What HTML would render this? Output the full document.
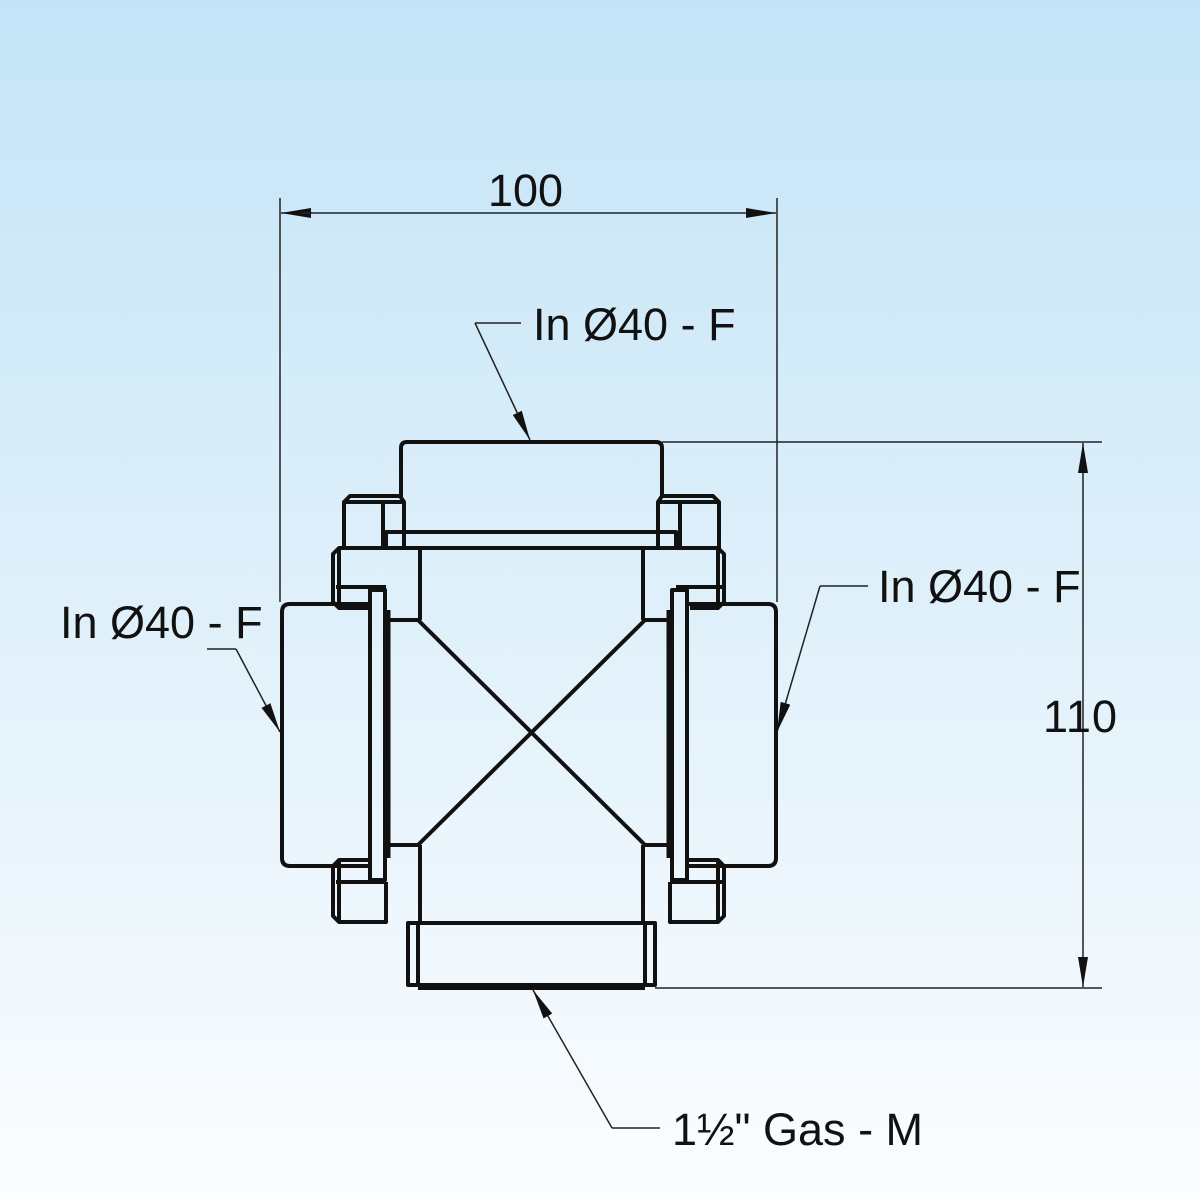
<!DOCTYPE html>
<html><head><meta charset="utf-8"><style>
html,body{margin:0;padding:0}
body{width:1200px;height:1200px;background:linear-gradient(#c3e4f7 0%,#dff0fa 50%,#fbfdff 100%);}
svg{display:block}
text{font-family:"Liberation Sans",sans-serif;font-size:45px;fill:#111}
</style></head><body>
<svg width="1200" height="1200" viewBox="0 0 1200 1200">
<defs>
<marker id="a" viewBox="0 0 30 10" refX="30" refY="5" markerWidth="30" markerHeight="10" markerUnits="userSpaceOnUse" orient="auto"><path d="M0,0 L30,5 L0,10 Z" fill="#111"/></marker>
</defs>
<g stroke="#222" stroke-width="1.5" fill="none">
<line x1="280" y1="198" x2="280" y2="602"/>
<line x1="777" y1="198" x2="777" y2="602"/>
<line x1="312" y1="213" x2="281" y2="213" marker-end="url(#a)"/>
<line x1="300" y1="213" x2="776" y2="213" marker-end="url(#a)"/>
<line x1="662" y1="442" x2="1102" y2="442"/>
<line x1="655" y1="988" x2="1102" y2="988"/>
<line x1="1083" y1="700" x2="1083" y2="443" marker-end="url(#a)"/>
<line x1="1083" y1="700" x2="1083" y2="987" marker-end="url(#a)"/>
<polyline points="521,323 475,323" />
<line x1="475" y1="323" x2="530" y2="440" marker-end="url(#a)"/>
<line x1="207" y1="649" x2="236" y2="649"/>
<line x1="236" y1="649" x2="280" y2="732" marker-end="url(#a)"/>
<line x1="868" y1="586" x2="820" y2="586"/>
<line x1="820" y1="586" x2="777" y2="732" marker-end="url(#a)"/>
<line x1="660" y1="1128" x2="612" y2="1128"/>
<line x1="612" y1="1128" x2="533" y2="990" marker-end="url(#a)"/>
</g>
<g stroke="#111" stroke-width="4" fill="none" stroke-linejoin="round">
<!-- top pipe -->
<path d="M401,498 V448 Q401,442 407,442 H656 Q662,442 662,448 V498"/>
<!-- top flange plate -->
<rect x="386" y="532" width="290" height="16"/>
<!-- top bolts -->
<path d="M344,548 V502 L350,496 H400 L404,502 V548"/><line x1="383" y1="500" x2="383" y2="548"/><line x1="344" y1="502" x2="404" y2="502"/>
<path d="M658,548 V502 L662,496 H713 L719,502 V548"/><line x1="680" y1="500" x2="680" y2="548"/><line x1="658" y1="502" x2="719" y2="502"/>
<path d="M386,548 H339 L333,554 V602 L339,608 H370"/><line x1="339" y1="550" x2="339" y2="606"/><line x1="336" y1="587" x2="386" y2="587"/>
<path d="M676,548 H718 L724,554 V602 L718,608 H690"/><line x1="718" y1="550" x2="718" y2="606"/><line x1="676" y1="587" x2="724" y2="587"/>
<!-- body -->
<line x1="420" y1="548" x2="420" y2="620"/><line x1="643" y1="548" x2="643" y2="620"/>
<line x1="390" y1="620" x2="418" y2="620"/><line x1="645" y1="620" x2="672" y2="620"/>
<line x1="418" y1="620" x2="645" y2="845"/><line x1="645" y1="620" x2="418" y2="845"/>
<line x1="390" y1="845" x2="420" y2="845"/><line x1="643" y1="845" x2="672" y2="845"/>
<line x1="420" y1="845" x2="420" y2="922"/><line x1="643" y1="845" x2="643" y2="922"/>
<!-- side flange plates -->
<rect x="370" y="590" width="15" height="290"/>
<line x1="388" y1="610" x2="388" y2="858" stroke-width="5"/>
<rect x="672" y="590" width="15" height="290"/>
<line x1="669" y1="610" x2="669" y2="858" stroke-width="5"/>
<!-- side pipes -->
<path d="M370,604 H290 Q282,604 282,612 V858 Q282,866 290,866 H370"/>
<path d="M687,604 H768 Q776,604 776,612 V858 Q776,866 768,866 H687"/>
<!-- bottom bolts -->
<path d="M370,860 H339 L333,866 V916 L339,922 H386 V882"/><line x1="339" y1="862" x2="339" y2="920"/><line x1="336" y1="882" x2="386" y2="882"/>
<path d="M687,860 H718 L724,866 V916 L718,922 H670 V882"/><line x1="718" y1="862" x2="718" y2="920"/><line x1="670" y1="882" x2="724" y2="882"/>
<!-- bottom fitting -->
<rect x="408" y="923" width="247" height="62"/>
<line x1="418" y1="923" x2="418" y2="985"/><line x1="645" y1="923" x2="645" y2="985"/>
<line x1="418" y1="988" x2="645" y2="988" stroke-width="4"/>
</g>
<text x="488" y="206">100</text>
<text x="533" y="340">In Ø40 - F</text>
<text x="60" y="638">In Ø40 - F</text>
<text x="878" y="602">In Ø40 - F</text>
<text x="1043" y="732" textLength="74">110</text>
<text x="672" y="1145">1½" Gas - M</text>
</svg>
</body></html>
